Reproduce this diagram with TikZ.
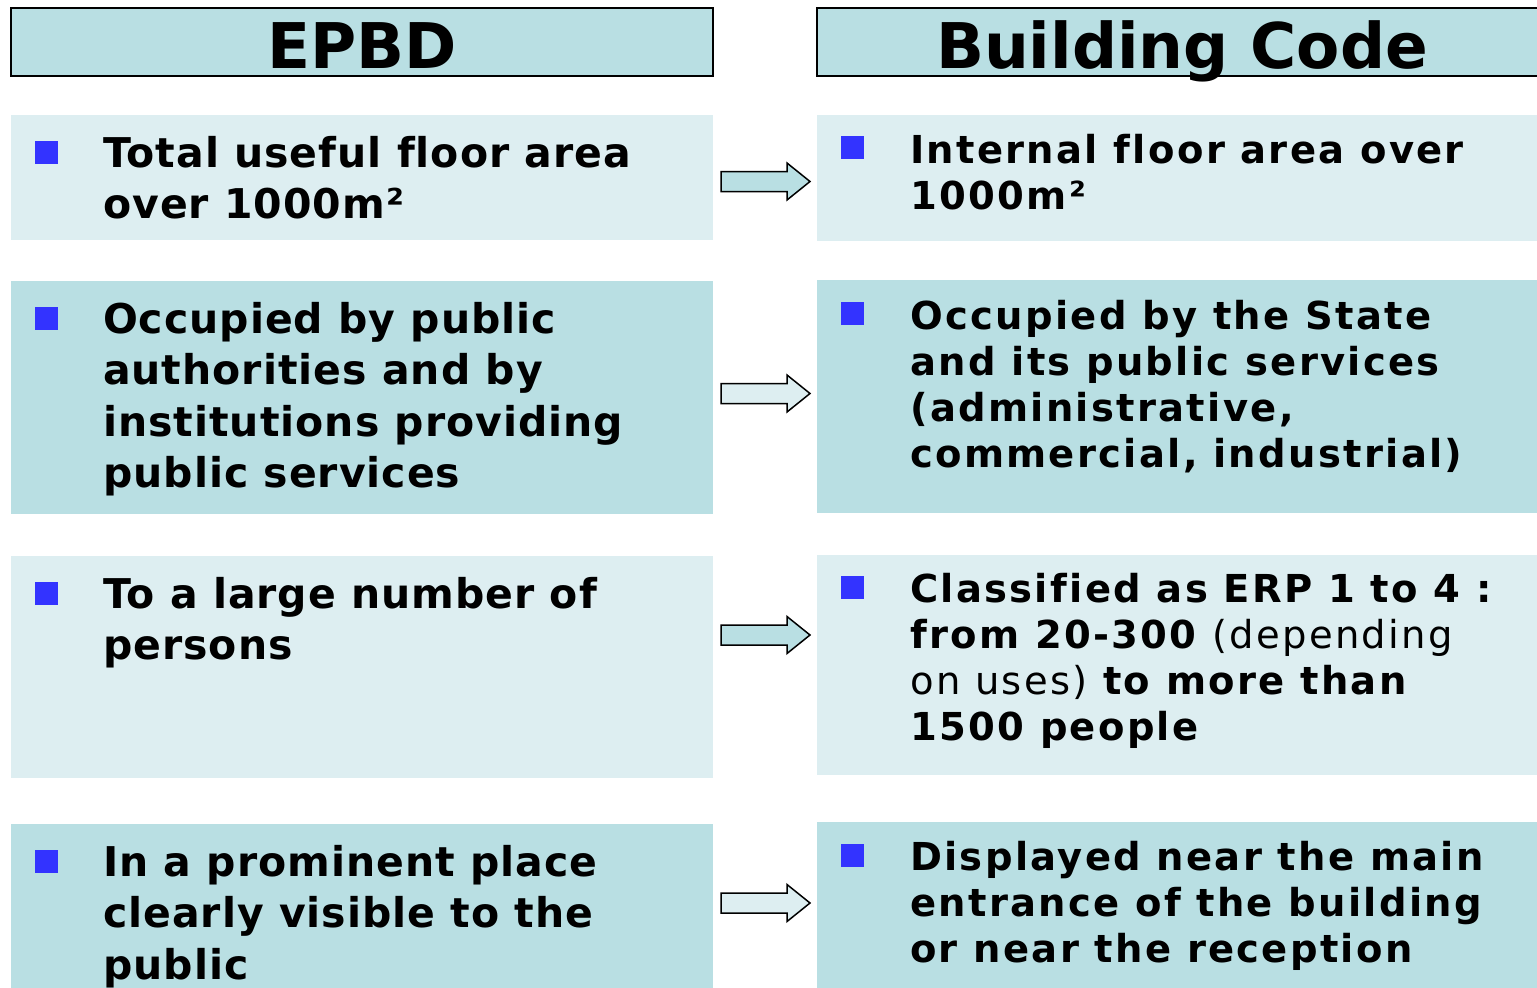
\documentclass[tikz,border=0pt]{standalone}
\usepackage{fontspec}
\setmainfont{DejaVu Sans}
\newfontfamily\lfont[LetterSpace=2.4,Ligatures=NoCommon]{DejaVu Sans}
\newfontfamily\rfont[LetterSpace=6,Ligatures=NoCommon]{DejaVu Sans}
\definecolor{darkfill}{HTML}{B9DFE3}
\definecolor{lightfill}{HTML}{DDEEF1}
\definecolor{bulletblue}{HTML}{3333FF}
\newcommand{\tline}[1]{\parbox[t]{640pt}{\raggedright #1}}
\tikzset{
  hdr/.style={draw=black, line width=1.5pt, fill=darkfill},
  lbox/.style={fill=lightfill},
  dbox/.style={fill=darkfill},
  bul/.style={fill=bulletblue, draw=none, minimum size=23pt, inner sep=0pt},
  ltext/.style={anchor=base west, inner sep=0pt, font=\fontsize{41}{51.5}\lfont\bfseries},
  rtext/.style={anchor=base west, inner sep=0pt, font=\fontsize{38.5}{46}\rfont\bfseries},
  barrow/.style={draw=black, line width=1.5pt, line join=miter},
}
\begin{document}
\begin{tikzpicture}[x=1pt,y=-1pt]
\useasboundingbox (0,0) rectangle (1537,988);
\clip (0,0) rectangle (1537,988);
% headers
\draw[hdr] (11,8) rectangle (713,76);
\draw[hdr] (817,8) rectangle (1560,76);
\node[anchor=base, inner sep=0pt, font=\fontsize{63}{70}\selectfont\bfseries] (h1) at (362,68) {EPBD};
\node[anchor=base, inner sep=0pt, font=\fontsize{63}{70}\selectfont\bfseries] (h2) at (1182,68) {Building Code};
% boxes
\fill[lbox] (11,115) rectangle (713,240);
\fill[lbox] (817,115) rectangle (1560,241);
\fill[dbox] (11,281) rectangle (713,514);
\fill[dbox] (817,280) rectangle (1560,513);
\fill[lbox] (11,556) rectangle (713,778);
\fill[lbox] (817,555) rectangle (1560,775);
\fill[dbox] (11,824) rectangle (713,1000);
\fill[dbox] (817,822) rectangle (1560,1000);
% bullets
\node[bul] (b1) at (46.5,152.5) {};
\node[bul] (b2) at (46.5,318) {};
\node[bul] (b3) at (46.5,593) {};
\node[bul] (b4) at (46.5,861) {};
\node[bul] (c1) at (852.5,147.5) {};
\node[bul] (c2) at (852.5,313) {};
\node[bul] (c3) at (852.5,587) {};
\node[bul] (c4) at (852.5,855) {};
% left texts
\node[ltext] (l1) at (103,167) {\tline{Total useful floor area\\over 1000m²}};
\node[ltext] (l2) at (103,333) {\tline{Occupied by public\\authorities and by\\institutions providing\\public services}};
\node[ltext] (l3) at (103,608) {\tline{To a large number of\\persons}};
\node[ltext] (l4) at (103,876) {\tline{In a prominent place\\clearly visible to the\\public}};
% right texts
\node[rtext] (r1) at (910,163) {\tline{Internal floor area over\\1000m²}};
\node[rtext] (r2) at (910,329) {\tline{Occupied by the State\\and its public services\\(administrative,\\commercial, industrial)}};
\node[rtext] (r3) at (910,602) {\tline{Classified as ERP 1 to 4 :\\from 20-300 {\mdseries (depending}\\{\mdseries on uses)} to more than\\1500 people}};
\node[rtext] (r4) at (910,870) {\tline{Displayed near the main\\entrance of the building\\or near the reception}};
% block arrows
\foreach \c/\f [count=\i] in {181.5/darkfill, 393.5/lightfill, 635/darkfill, 903/lightfill}{
  \draw[barrow, fill=\f] (721,\c-10) -- (787,\c-10) -- (787,\c-18.5) -- (810,\c) -- (787,\c+18.5) -- (787,\c+10) -- (721,\c+10) -- cycle;
}
\end{tikzpicture}
\end{document}
